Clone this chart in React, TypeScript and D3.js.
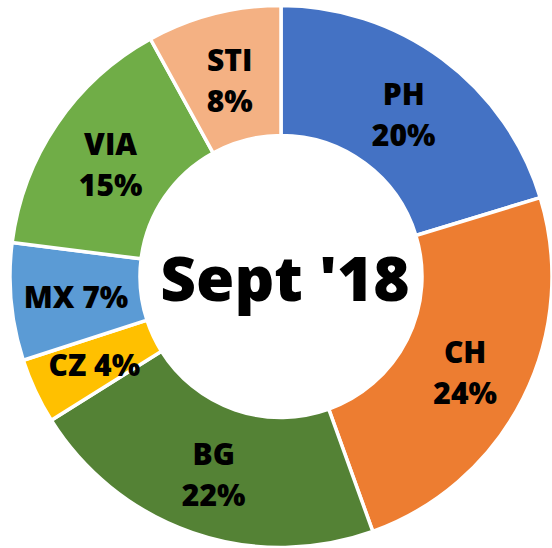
import React from "react";
import * as d3 from "d3";

const categories = ["PH", "CH", "BG", "CZ", "MX", "VIA", "STI"];
const values = [20.3, 24.2, 21.6, 3.9, 7.0, 15.0, 8.0];
const pctLabels = ["20%", "24%", "22%", "4%", "7%", "15%", "8%"];
const singleLine = [false, false, false, true, true, false, false];
const colors = ["#4472C4", "#ED7D31", "#548235", "#FFC000", "#5B9BD5", "#70AD47", "#F4B183"];
const centerTitle = "Sept '18";

const W = 552;
const H = 548;
const cx = 281;
const cy = 276.5;
const outerR = 271;
const innerR = 141;
const font = "'Open Sans', 'Noto Sans', sans-serif";

export default function App() {
  const pie = d3
    .pie<number>()
    .sort(null)
    .value((d) => d)
    .startAngle(0)
    .endAngle(2 * Math.PI);
  const arcs = pie(values);
  const arcGen = d3.arc<d3.PieArcDatum<number>>().innerRadius(innerR).outerRadius(outerR);

  return (
    <svg
      width={W}
      height={H}
      style={{ position: "absolute", left: 0, top: 0, background: "#fff" }}
    >
      <g transform={`translate(${cx},${cy})`}>
        {arcs.map((a, i) => (
          <path key={i} d={arcGen(a) || ""} fill={colors[i]} stroke="#fff" strokeWidth={3.5} />
        ))}
        {arcs.map((a, i) => {
          const [x, y] = arcGen.centroid(a);
          if (singleLine[i]) {
            return (
              <text
                key={"l" + i}
                x={x}
                y={y + 12}
                textAnchor="middle"
                fontFamily={font}
                fontWeight={800}
                fontSize={30}
                fill="#000"
              >
                {categories[i] + " " + pctLabels[i]}
              </text>
            );
          }
          return (
            <text
              key={"l" + i}
              textAnchor="middle"
              fontFamily={font}
              fontWeight={800}
              fontSize={30}
              fill="#000"
            >
              <tspan x={x} y={y - 6}>
                {categories[i]}
              </tspan>
              <tspan x={x} y={y + 35}>
                {pctLabels[i]}
              </tspan>
            </text>
          );
        })}
        <text
          x={4}
          y={24.5}
          textAnchor="middle"
          fontFamily={font}
          fontWeight={800}
          fontSize={62}
          fill="#000"
        >
          {centerTitle}
        </text>
      </g>
    </svg>
  );
}
